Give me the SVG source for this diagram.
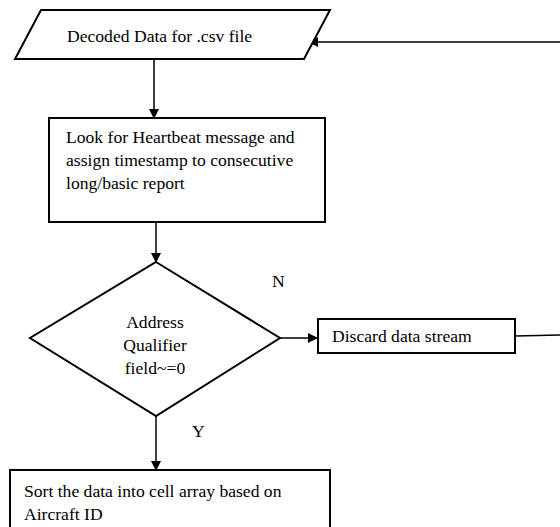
<svg xmlns="http://www.w3.org/2000/svg" width="560" height="527" viewBox="0 0 560 527">
<defs>
<style>
.shape{fill:#fff;stroke:#000;stroke-width:2}
.line{fill:none;stroke:#000;stroke-width:1.5}
</style>
<marker id="arr" markerWidth="10" markerHeight="10" refX="9" refY="5" orient="auto" markerUnits="userSpaceOnUse" viewBox="0 0 10 10">
<path d="M0,0 L10,5 L0,10 z" fill="#000"/>
</marker>
</defs>
<rect width="560" height="527" fill="#fff"/>
<g font-family="Liberation Serif, Times New Roman, DejaVu Serif, serif" font-size="17.6" fill="#000">
<g id="connectors">
<line class="line" x1="154" y1="59" x2="154" y2="118" marker-end="url(#arr)"/>
<line class="line" x1="156" y1="222" x2="156" y2="262" marker-end="url(#arr)"/>
<line class="line" x1="280" y1="338" x2="317" y2="338" marker-end="url(#arr)"/>
<line class="line" x1="156" y1="416" x2="156" y2="470" marker-end="url(#arr)"/>
<line class="line" x1="515" y1="336" x2="560" y2="335"/>
<line class="line" x1="560" y1="42" x2="309" y2="42" marker-end="url(#arr)"/>
<text x="272" y="287">N</text>
<text x="192" y="437">Y</text>
</g>
<g id="decoded">
<polygon class="shape" points="41,10 330,10 304,59 15,59"/>
<text x="67" y="42">Decoded Data for .csv file</text>
</g>
<g id="heartbeat">
<rect class="shape" x="49" y="118" width="276" height="104"/>
<text x="66" y="143">Look for Heartbeat message and</text>
<text x="66" y="166">assign timestamp to consecutive</text>
<text x="66" y="189">long/basic report</text>
</g>
<g id="decision">
<polygon class="shape" points="156,262 280,338 156,416 30,338"/>
<text x="155" y="328" text-anchor="middle">Address</text>
<text x="155" y="351" text-anchor="middle">Qualifier</text>
<text x="155" y="374" text-anchor="middle">field~=0</text>
</g>
<g id="discard">
<rect class="shape" x="318" y="319" width="197" height="34"/>
<text x="332" y="342">Discard data stream</text>
</g>
<g id="sort">
<rect class="shape" x="10" y="470" width="320" height="70"/>
<text x="24" y="497">Sort the data into cell array based on</text>
<text x="24" y="520">Aircraft ID</text>
</g>
</g>
</svg>
